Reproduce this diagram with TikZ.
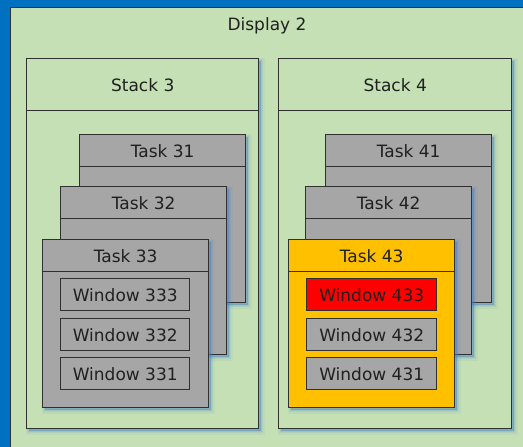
\documentclass[tikz,border=0pt]{standalone}
\usepackage{fontspec}
\setmainfont{DejaVu Sans}
\usetikzlibrary{shadows}
\definecolor{bgblue}{RGB}{0,112,192}
\definecolor{dispgreen}{RGB}{197,224,180}
\definecolor{taskgrey}{RGB}{166,166,166}
\definecolor{activeorange}{RGB}{255,192,0}
\definecolor{focusred}{RGB}{255,0,0}
\definecolor{edge}{RGB}{48,48,48}
\definecolor{ink}{RGB}{32,32,32}
\definecolor{shadowblue}{RGB}{70,130,200}
\tikzset{
  softshadow/.style={
    general shadow={fill=shadowblue,draw=shadowblue,line width=7pt,opacity=0.07,shadow xshift=2.5pt,shadow yshift=-2.5pt},
    general shadow={fill=shadowblue,draw=shadowblue,line width=4.5pt,opacity=0.10,shadow xshift=2.5pt,shadow yshift=-2.5pt},
    general shadow={fill=shadowblue,draw=shadowblue,line width=2pt,opacity=0.14,shadow xshift=2.5pt,shadow yshift=-2.5pt},
    general shadow={fill=shadowblue,opacity=0.2,shadow xshift=2.5pt,shadow yshift=-2.5pt}},
  box/.style={draw=edge,line width=1.4pt,inner sep=0pt,anchor=north west,
    text=ink,font=\fontsize{17}{20}\selectfont},
  displaybox/.style={box,fill=dispgreen},
  stackbox/.style={box,fill=dispgreen,softshadow,minimum width=232pt,minimum height=370pt},
  stackhead/.style={box,fill=dispgreen,minimum width=232pt,minimum height=52pt},
  taskbox/.style={box,fill=#1,softshadow,minimum width=166pt,minimum height=168pt},
  taskhead/.style={box,fill=#1,minimum width=166pt,minimum height=32pt},
  winbox/.style={box,fill=#1,minimum width=129pt,minimum height=32pt},
}
\begin{document}
\begin{tikzpicture}[x=1pt,y=-1pt]
\useasboundingbox (0,0) rectangle (523,447);
\fill[bgblue] (0,0) rectangle (523,447);

% display
\node[displaybox,minimum width=530pt,minimum height=460pt] (disp) at (9.5,6.5) {};
\node[text=ink,font=\fontsize{17}{20}\selectfont] (disptitle) at (267,26) {Display 2};

% stack 3
\node[stackbox] (s3) at (26,58) {};
\node[stackhead] (s3h) at (s3.north west) {Stack 3};
\node[taskbox=taskgrey] (t31) at (79,134) {};
\node[taskhead=taskgrey] (t31h) at (t31.north west) {Task 31};
\node[taskbox=taskgrey] (t32) at (60,186) {};
\node[taskhead=taskgrey] (t32h) at (t32.north west) {Task 32};
\node[taskbox=taskgrey] (t33) at (42,239) {};
\node[taskhead=taskgrey] (t33h) at (t33.north west) {Task 33};
\node[winbox=taskgrey] (w333) at (60,278) {Window 333};
\node[winbox=taskgrey] (w332) at (60,318) {Window 332};
\node[winbox=taskgrey] (w331) at (60,357) {Window 331};

% stack 4
\node[stackbox,minimum width=233pt] (s4) at (278,58) {};
\node[stackhead,minimum width=233pt] (s4h) at (s4.north west) {Stack 4};
\node[taskbox=taskgrey] (t41) at (325,134) {};
\node[taskhead=taskgrey] (t41h) at (t41.north west) {Task 41};
\node[taskbox=taskgrey] (t42) at (305,186) {};
\node[taskhead=taskgrey] (t42h) at (t42.north west) {Task 42};
\node[taskbox=activeorange] (t43) at (288,239) {};
\node[taskhead=activeorange] (t43h) at (t43.north west) {Task 43};
\node[winbox=focusred,minimum width=130pt] (w433) at (306,278) {Window 433};
\node[winbox=taskgrey,minimum width=130pt] (w432) at (306,318) {Window 432};
\node[winbox=taskgrey,minimum width=130pt] (w431) at (306,357) {Window 431};
\end{tikzpicture}
\end{document}
